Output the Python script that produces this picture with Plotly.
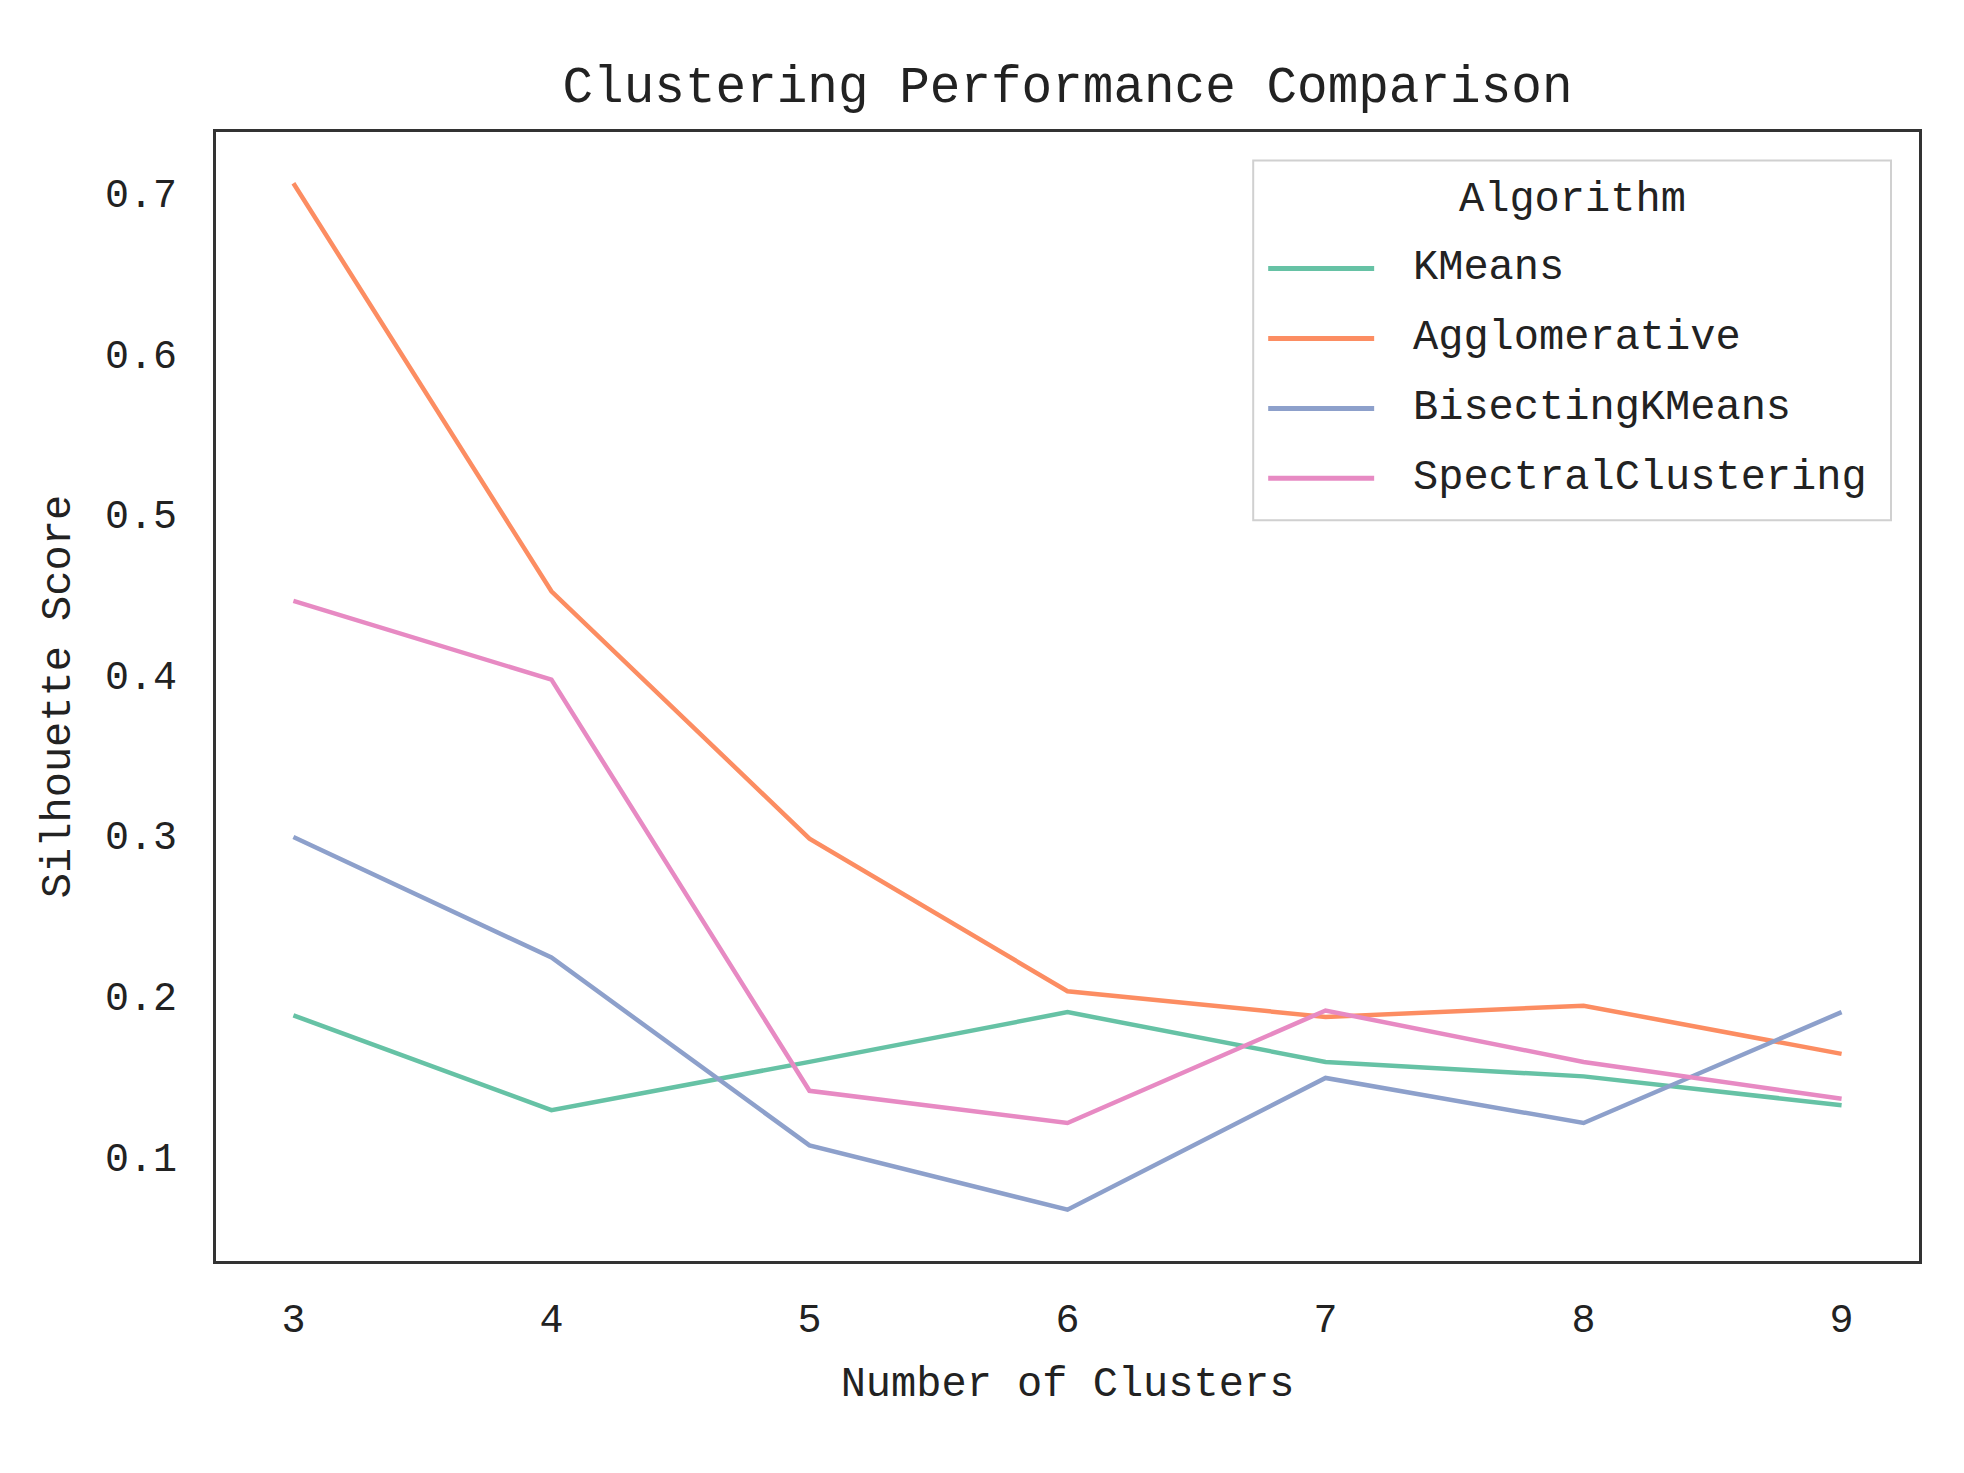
import plotly.graph_objects as go

# ---- data ----
clusters = [3, 4, 5, 6, 7, 8, 9]
kmeans = [0.188, 0.129, 0.159, 0.190, 0.159, 0.150, 0.132]
agglomerative = [0.706, 0.452, 0.298, 0.203, 0.187, 0.194, 0.164]
bisecting = [0.299, 0.224, 0.107, 0.067, 0.149, 0.121, 0.190]
spectral = [0.446, 0.397, 0.141, 0.121, 0.191, 0.159, 0.136]

series_names = ["KMeans", "Agglomerative", "BisectingKMeans", "SpectralClustering"]
series_values = [kmeans, agglomerative, bisecting, spectral]
colors = ["#66c2a5", "#fc8d62", "#8da0cb", "#e78ac3"]

y_ticks = [0.1, 0.2, 0.3, 0.4, 0.5, 0.6, 0.7]

FONT = "Liberation Mono"
TXT = "#222222"

OFF = 8  # default page body margin
W, H = 1964 - OFF, 1473 - OFF
L, R, T, B = 215.5 - OFF, 1919 - OFF, 131.5 - OFF, 1261 - OFF

fig = go.Figure()
for name, vals, c in zip(series_names, series_values, colors):
    fig.add_trace(go.Scatter(x=clusters, y=vals, mode="lines", name=name,
                             line=dict(color=c, width=4.5), showlegend=False))

# x/y ranges with matplotlib-like 5% margins
xmin, xmax = min(clusters), max(clusters)
allv = [v for s in series_values for v in s]
ymin, ymax = min(allv), max(allv)
xm = 0.05 * (xmax - xmin)
ym = 0.05 * (ymax - ymin)

def px(X):
    return (X - OFF - L) / (R - L)

def py(Y):
    return (B - (Y - OFF)) / (B - T)

shapes = []
annotations = []
# legend box
shapes.append(dict(type="rect", xref="paper", yref="paper",
                   x0=px(1253), x1=px(1891), y0=py(520), y1=py(160),
                   line=dict(color="#d0d0d0", width=2), fillcolor="white", layer="above"))
annotations.append(dict(text="Algorithm", xref="paper", yref="paper",
                        x=px(1572), y=py(200), showarrow=False,
                        xanchor="center", yanchor="middle",
                        font=dict(family=FONT, size=42, color=TXT)))
entry_y = [268, 338, 408, 478]
for name, c, ey in zip(series_names, colors, entry_y):
    shapes.append(dict(type="line", xref="paper", yref="paper",
                       x0=px(1268), x1=px(1374), y0=py(ey), y1=py(ey),
                       line=dict(color=c, width=5), layer="above"))
    annotations.append(dict(text=name, xref="paper", yref="paper",
                            x=px(1411), y=py(ey), showarrow=False,
                            xanchor="left", yanchor="middle",
                            font=dict(family=FONT, size=42, color=TXT)))

fig.update_layout(
    width=W, height=H,
    margin=dict(l=L, r=W - R, t=T, b=H - B, pad=0),
    paper_bgcolor="white", plot_bgcolor="white",
    title=dict(text="Clustering Performance Comparison", x=0.5, xref="paper",
               y=1 - (84 - OFF) / H, yref="container", yanchor="middle", xanchor="center",
               font=dict(family=FONT, size=51, color=TXT)),
    shapes=shapes, annotations=annotations,
    font=dict(family=FONT, color=TXT),
)
fig.update_xaxes(range=[xmin - xm, xmax + xm], tickvals=clusters,
                 ticktext=[str(c) for c in clusters],
                 showgrid=False, zeroline=False, showline=True, mirror=True,
                 linecolor="#333333", linewidth=3, ticks="",
                 ticklabelstandoff=20,
                 tickfont=dict(family=FONT, size=40, color=TXT),
                 title=dict(text="Number of Clusters", standoff=24,
                            font=dict(family=FONT, size=42, color=TXT)))
fig.update_yaxes(range=[ymin - ym, ymax + ym], tickvals=y_ticks,
                 ticktext=[f"{v:.1f}" for v in y_ticks],
                 showgrid=False, zeroline=False, showline=True, mirror=True,
                 linecolor="#333333", linewidth=3, ticks="",
                 ticklabelstandoff=28,
                 tickfont=dict(family=FONT, size=40, color=TXT),
                 title=dict(text="Silhouette Score", standoff=22,
                            font=dict(family=FONT, size=42, color=TXT)))

fig.write_html("out.html")
